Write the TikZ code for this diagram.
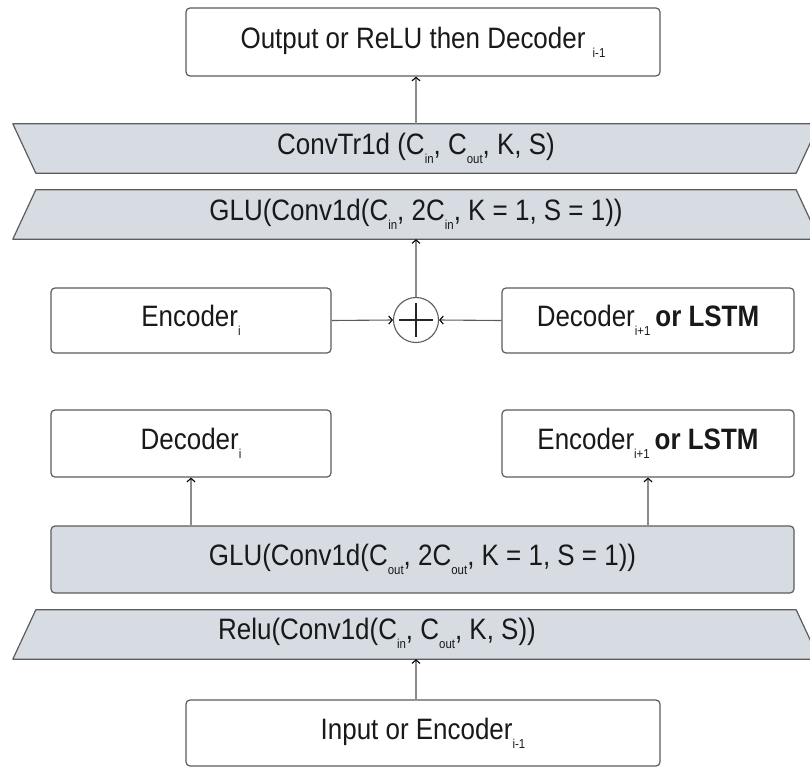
\documentclass[tikz,border=0pt]{standalone}
\usepackage{fontspec}
\setmainfont{Liberation Sans}[FakeStretch=0.88]
\usetikzlibrary{arrows.meta,backgrounds}
\definecolor{fillc}{HTML}{D6DCE2}
\definecolor{edgec}{HTML}{5C5C5C}
\definecolor{linec}{HTML}{8C8C8C}
\newcommand{\subtx}[1]{\raisebox{-0.30em}{\fontsize{13}{13}\selectfont #1}}
\begin{document}
\begin{tikzpicture}[x=1pt,y=-1pt,
  txt/.style={font=\fontsize{29.5}{33}\selectfont, text=black!90},
  box/.style={txt, draw=edgec, line width=1.2pt, rounded corners=4pt, fill=white, inner sep=0pt},
  trapnode/.style={txt, inner sep=0pt, minimum width=806pt, minimum height=49pt},
  trapfill/.style={draw=edgec, line width=1.2pt, fill=fillc, line join=round},
  conn/.style={draw=linec, line width=1.1pt, -{Straight Barb[length=3.5pt,width=8pt,line width=1.1pt,color=black]}}
]
\useasboundingbox (0,0) rectangle (810,771);
\clip (0,0) rectangle (810,771);

% boxes
\node[box, minimum width=474pt, minimum height=68pt] (top) at (423,42) {Output or ReLU then Decoder \subtx{i-1}};
\node[trapnode] (convtr) at (416,148.5) {ConvTr1d (C\subtx{in}, C\subtx{out}, K, S)};
\node[trapnode] (gluin) at (416,214.5) {GLU(Conv1d(C\subtx{in}, 2C\subtx{in}, K = 1, S = 1))};
\node[box, minimum width=280pt, minimum height=65pt] (enc) at (191,320.5) {Encoder\subtx{i}};
\node[box, minimum width=292pt, minimum height=65pt] (dec) at (648,320.5) {Decoder\subtx{i+1}\,\textbf{or LSTM}};
\node[draw=edgec, line width=1.1pt, circle, minimum size=45pt, inner sep=0pt, fill=white] (sum) at (416,320) {};
\node[box, minimum width=280pt, minimum height=67pt] (deci) at (191,443.5) {Decoder\subtx{i}};
\node[box, minimum width=292pt, minimum height=67pt] (encn) at (648,443.5) {Encoder\subtx{i+1}\,\textbf{or LSTM}};
\node[box, fill=fillc, minimum width=743pt, minimum height=67pt] (gluout) at (422.5,559.5) {GLU(Conv1d(C\subtx{out}, 2C\subtx{out}, K = 1, S = 1))};
\node[trapnode] (relu) at (416,634.5) {};
\node[txt] (relulbl) at (377,633) {Relu(Conv1d(C\subtx{in}, C\subtx{out}, K, S))};
\node[box, minimum width=474pt, minimum height=66pt] (inp) at (423,733) {Input or Encoder\subtx{i-1}};

% trapezoids
\begin{scope}[on background layer]
\draw[trapfill] (convtr.north west) -- (convtr.north east) -- ([xshift=-23pt]convtr.south east) -- ([xshift=23pt]convtr.south west) -- cycle;
\draw[trapfill] ([xshift=23pt]gluin.north west) -- ([xshift=-23pt]gluin.north east) -- (gluin.south east) -- (gluin.south west) -- cycle;
\draw[trapfill] ([xshift=23pt]relu.north west) -- ([xshift=-23pt]relu.north east) -- (relu.south east) -- (relu.south west) -- cycle;
\end{scope}

% plus sign
\draw[black!85, line width=1.3pt] ([xshift=-17pt]sum.center) -- ([xshift=17pt]sum.center);
\draw[black!85, line width=1.3pt] ([yshift=-17pt]sum.center) -- ([yshift=17pt]sum.center);

% connectors
\draw[conn] (convtr.north) -- (convtr.north |- top.south);
\draw[conn] (sum.north) -- (gluin.south);
\draw[conn, draw=edgec] (enc.east) -- (sum.west);
\draw[conn, draw=edgec] (dec.west) -- (sum.east);
\draw[conn] (deci.south |- gluout.north) -- (deci.south);
\draw[conn] (encn.south |- gluout.north) -- (encn.south);
\draw[conn] (relu.south |- inp.north) -- (relu.south);
\end{tikzpicture}
\end{document}
